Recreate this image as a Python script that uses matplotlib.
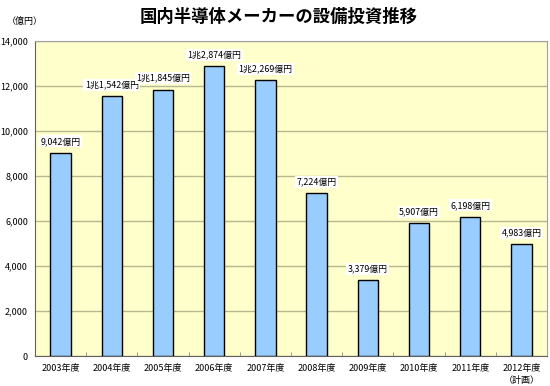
import matplotlib.pyplot as plt
from matplotlib.ticker import FuncFormatter, MultipleLocator
import numpy as np

plt.rcParams['font.family'] = ['Noto Sans CJK JP', 'DejaVu Sans']

years = ['2003年度', '2004年度', '2005年度', '2006年度', '2007年度',
         '2008年度', '2009年度', '2010年度', '2011年度', '2012年度\n（計画）']
values = [9042, 11542, 11845, 12874, 12269, 7224, 3379, 5907, 6198, 4983]
labels = ['9,042億円', '1兆1,542億円', '1兆1,845億円', '1兆2,874億円', '1兆2,269億円',
          '7,224億円', '3,379億円', '5,907億円', '6,198億円', '4,983億円']

fig = plt.figure(figsize=(5.5, 3.86), dpi=100)
ax = fig.add_axes([0.0636, 0.0777, 0.931, 0.816])
ax.set_facecolor('#FFFFCC')

x = np.arange(len(values))
ax.bar(x, values, width=0.4, color='#99CCFF', edgecolor='black', linewidth=1.0, zorder=3)

for xi, v, lab in zip(x, values, labels):
    ax.text(xi, v + 300, lab, ha='center', va='bottom', fontsize=6.4,
            bbox=dict(facecolor='white', edgecolor='none', pad=1.0), zorder=4)

ax.set_xlim(-0.5, len(values) - 0.5)
ax.set_ylim(0, 14000)
ax.yaxis.set_major_locator(MultipleLocator(2000))
ax.yaxis.set_major_formatter(FuncFormatter(lambda v, p: f'{int(v):,}'))
ax.grid(axis='y', color='#B8B890', linewidth=1.0, zorder=1)

ax.set_xticks(x)
ax.set_xticklabels(years, fontsize=6.5, linespacing=1.4)
ax.set_xticks(np.arange(len(values) + 1) - 0.5, minor=True)
ax.tick_params(axis='x', which='major', length=0, pad=6)
ax.tick_params(axis='x', which='minor', direction='in', length=3, color='#888888')
ax.tick_params(axis='y', labelsize=6.5, length=0, pad=5)

for s in ['top', 'right']:
    ax.spines[s].set_color('#A0A0A0')
for s in ['left', 'bottom']:
    ax.spines[s].set_color('#606060')

fig.text(0.507, 0.955, '国内半導体メーカーの設備投資推移', ha='center', va='center',
         fontsize=12.5, fontweight='bold')
fig.text(0.012, 0.945, '（億円）', ha='left', va='center', fontsize=6.5)

fig.savefig('out.png', dpi=100)
